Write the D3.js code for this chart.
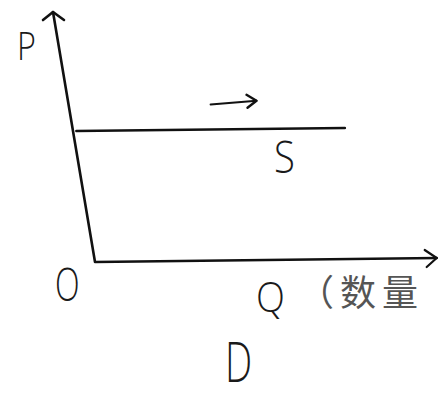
<!DOCTYPE html>
<html>
  <head>
    <meta charset="utf-8">
    <title>P-Q</title>
    <style>
    body { margin: 0; background: #fff; }
    text { font-family: "Open Sans", "DejaVu Sans", sans-serif; font-weight: 300; fill: #1a1a1a; }
    .cjk { font-family: "Noto Sans CJK SC", sans-serif; font-weight: 400; fill: #555; }
    </style>
  </head>
  <body>
    <script src="https://d3js.org/d3.v7.min.js"></script>
    <script>
    // datos
    var supplyQ = [-0.55, 7.35];   // linea S, horizontal
    var supplyP = [5.24, 5.36];
    var shiftQ = [3.4, 4.75];      // flecha de desplazamiento
    var shiftP = [6.3, 6.45];
    var axisLabels = ["P", "O", "Q", "S", "D"];
    var unitLabel = "（数量";

    var width = 442, height = 404;
    var lean = 42; // el eje vertical esta inclinado en el dibujo

    var x = d3.scaleLinear().domain([0, 10]).range([95, 435]);
    var y = d3.scaleLinear().domain([0, 10]).range([262, 12]);

    var svg = d3.select("body").append("svg")
      .attr("width", width)
      .attr("height", height);

    var line = d3.line()
      .x(function(d) { return d[0]; })
      .y(function(d) { return d[1]; });

    function draw(pts, w) {
      svg.append("path")
        .attr("d", line(pts))
        .attr("fill", "none")
        .attr("stroke", "#111")
        .attr("stroke-width", w)
        .attr("stroke-linecap", "round")
        .attr("stroke-linejoin", "round");
    }

    // ejes
    var yTip = [x(0) - lean, y(10)];
    var xTip = [x(10.05), y(0.16)];
    draw([yTip, [x(0), y(0)], xTip], 2.6);
    draw([[yTip[0] - 10, yTip[1] + 8], yTip, [yTip[0] + 11, yTip[1] + 8]], 2.6);
    draw([[xTip[0] - 12, xTip[1] - 8], xTip, [xTip[0] - 10, xTip[1] + 9]], 2.2);

    // linea S
    draw(d3.zip(supplyQ.map(x), supplyP.map(y)), 2.4);

    // flecha
    var a = d3.zip(shiftQ.map(x), shiftP.map(y));
    draw(a, 2);
    var tip = a[1];
    draw([[tip[0] - 10, tip[1] - 6], tip, [tip[0] - 9, tip[1] + 7]], 2.4);

    // etiquetas
    function label(t, px, py, size, sx) {
      svg.append("text")
        .attr("transform", "translate(" + px + "," + py + ") scale(" + sx + ",1)")
        .attr("font-size", size)
        .text(t);
    }
    label(axisLabels[0], 17, 60, 38, 0.85);
    label(axisLabels[1], 55, 301, 46, 0.7);
    label(axisLabels[2], 256, 312, 42, 0.9);
    label(axisLabels[3], 274, 173, 45, 0.85);
    label(axisLabels[4], 225, 382, 55, 0.7);

    svg.append("text")
      .attr("class", "cjk")
      .attr("x", 298)
      .attr("y", 306)
      .attr("font-size", 36)
      .attr("letter-spacing", 6)
      .text(unitLabel);
    </script>
  </body>
</html>
